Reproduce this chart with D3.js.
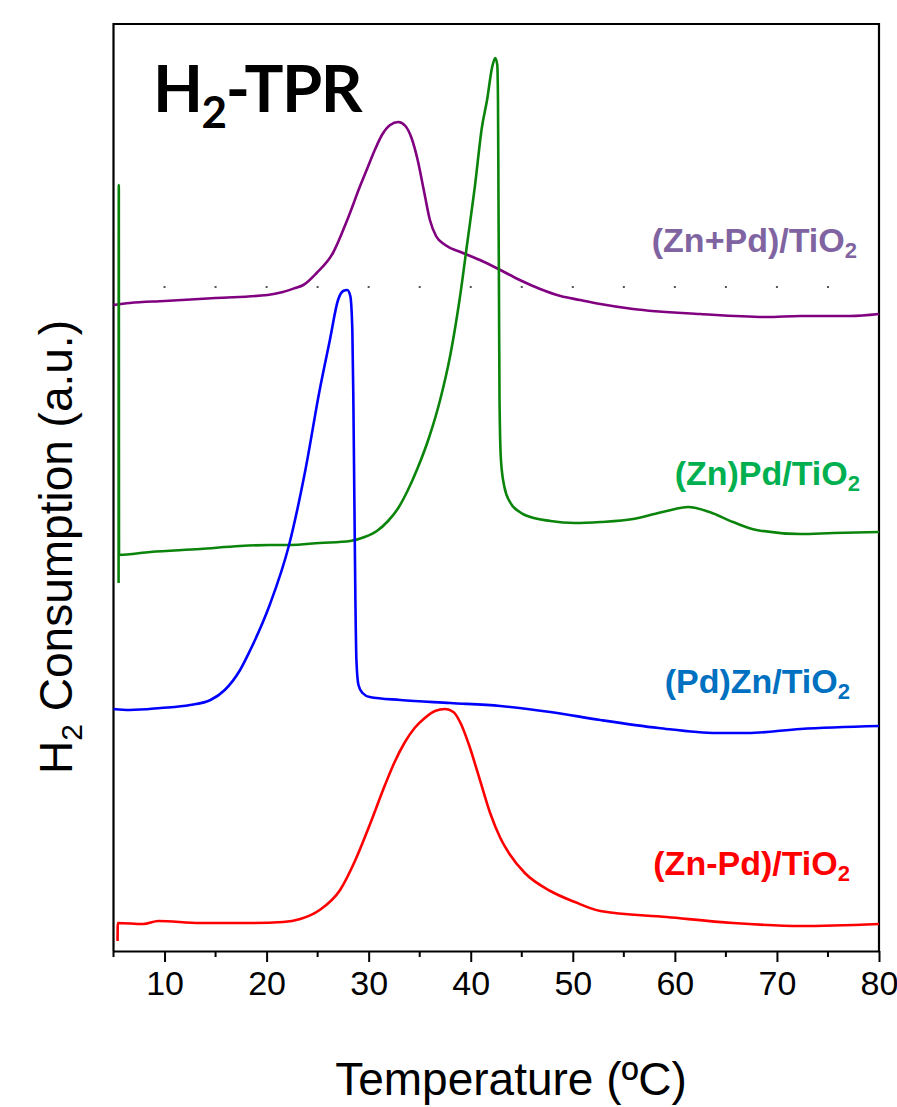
<!DOCTYPE html>
<html>
<head>
<meta charset="utf-8">
<script src="https://cdn.jsdelivr.net/npm/d3@7"></script>
<style>
  html,body{margin:0;padding:0;background:#fff;}
  svg{display:block;}
</style>
</head>
<body>
<svg id="chart" width="897" height="1107"></svg>
<script>
// temperature (ºC) and H2 signal (a.u.)
const purple = [
  [5.0,6.46],[6.6,6.48],[10.0,6.50],[15.0,6.53],[20.1,6.56],[21.6,6.59],[22.8,6.63],[23.6,6.66],
  [24.9,6.78],[26.5,6.98],[27.9,7.31],[29.2,7.66],[29.8,7.81],[30.6,8.01],[31.3,8.16],[32.1,8.26],
  [32.9,8.29],[33.6,8.25],[34.2,8.13],[34.8,7.91],[35.4,7.61],[36.0,7.31],[36.6,7.15],[37.5,7.06],
  [39.0,6.99],[40.9,6.91],[42.9,6.81],[44.8,6.71],[46.8,6.62],[48.8,6.55],[50.7,6.51],[52.7,6.47],
  [55.9,6.42],[62.5,6.37],[69.0,6.34],[72.3,6.35],[77.2,6.35],[80.0,6.37]
];
const green = [
  [5.50,3.68],[5.52,7.66],[5.54,3.96],[8.6,3.99],[13.5,4.02],[17.4,4.05],[20.3,4.06],[22.3,4.06],
  [25.2,4.08],[28.2,4.10],[29.6,4.14],[30.8,4.20],[31.9,4.30],[32.9,4.43],[33.8,4.60],[34.8,4.83],
  [35.9,5.13],[37.0,5.51],[38.0,5.96],[38.9,6.51],[39.7,7.11],[40.4,7.64],[41.1,8.24],[41.6,8.51],[42.1,8.84],
  [42.4,8.93],[42.6,8.86],[42.67,8.51],[42.72,7.51],[42.77,6.51],[42.82,5.51],[42.96,4.91],[43.3,4.64],
  [43.9,4.48],[44.8,4.39],[45.3,4.36],[47.8,4.30],[50.2,4.28],[52.7,4.29],[55.9,4.32],[58.0,4.37],[59.2,4.40],
  [61.3,4.44],[63.4,4.39],[65.7,4.29],[68.0,4.21],[72.3,4.17],[75.5,4.18],[80.0,4.19]
];
const blue = [
  [5.0,2.42],[6.6,2.41],[9.6,2.43],[12.5,2.46],[14.5,2.51],[15.9,2.61],[17.4,2.81],[18.4,3.01],
  [20.3,3.46],[22.2,4.06],[23.8,4.81],[25.2,5.61],[26.2,6.11],[27.0,6.51],[27.5,6.60],[27.9,6.61],
  [28.2,6.55],[28.4,6.21],[28.5,5.51],[28.6,4.51],[28.7,3.51],[28.8,2.91],[29.0,2.66],[29.4,2.58],
  [30.1,2.54],[33.1,2.51],[38.0,2.48],[42.9,2.45],[47.8,2.39],[52.7,2.31],[58.4,2.23],[64.1,2.18],
  [67.1,2.18],[72.3,2.22],[80.0,2.25]
];
const red = [
  [5.40,0.10],[5.42,0.28],[7.9,0.27],[9.4,0.30],[13.5,0.28],[18.4,0.28],[21.6,0.29],[23.3,0.32],
  [25.2,0.41],[27.2,0.61],[28.7,0.91],[30.1,1.26],[31.6,1.66],[32.5,1.88],[33.5,2.08],[34.5,2.23],
  [35.5,2.33],[36.5,2.40],[37.5,2.42],[38.3,2.39],[39.0,2.28],[39.8,2.07],[40.9,1.71],[41.9,1.38],
  [42.9,1.13],[43.8,0.97],[45.3,0.78],[47.8,0.60],[50.2,0.49],[52.7,0.40],[59.2,0.34],[65.7,0.28],
  [72.3,0.25],[80.0,0.27]
];
const majorTicks = [10,20,30,40,50,60,70,80];
const minorTicks = [5,15,25,35,45,55,65,75];
const dotTicks = [10,15,20,25,30,35,40,45,50,55,60,65,70,75];
const dotLevel = 6.64;

const series = [
  {name:"(Zn+Pd)/TiO", data:purple, line:"#800080", text:"#8064a2", lx:857, ly:252},
  {name:"(Zn)Pd/TiO",  data:green,  line:"#0a840a", text:"#00b050", lx:860, ly:485},
  {name:"(Pd)Zn/TiO",  data:blue,   line:"#0000ff", text:"#0070c0", lx:850, ly:693},
  {name:"(Zn-Pd)/TiO", data:red,    line:"#ff0000", text:"#ff0000", lx:850, ly:875}
];

const svg = d3.select("#chart");
const pLeft=113.5, pRight=879, pTop=24, pBottom=951;

const x = d3.scaleLinear().domain([5,80]).range([pLeft,pRight]);
const y = d3.scaleLinear().domain([0,9.27]).range([pBottom,pTop]);

// frame
svg.append("path")
  .attr("d",`M${pLeft},${pBottom}V${pTop}H${pRight}V${pBottom}`)
  .attr("fill","none").attr("stroke","#000").attr("stroke-width",2.2);

// little dotted marks left over in the figure
svg.append("g").selectAll("rect").data(dotTicks).join("rect")
  .attr("x",d=>x(d)-1).attr("y",y(dotLevel)-1).attr("width",2).attr("height",2)
  .attr("fill","#555");

// bottom axis
const ax = svg.append("g").attr("transform",`translate(0,${pBottom})`)
  .call(d3.axisBottom(x).tickValues(majorTicks).tickSize(11).tickPadding(9).tickSizeOuter(0).tickFormat(d3.format("d")));
ax.select(".domain").attr("stroke-width",2.2);
ax.selectAll(".tick line").attr("stroke-width",2);
ax.selectAll(".tick text").attr("font-family","Liberation Sans, Arial, sans-serif").attr("font-size",34).attr("fill","#000");
svg.append("g").attr("transform",`translate(0,${pBottom})`)
  .selectAll("line").data(minorTicks).join("line")
  .attr("x1",d=>x(d)).attr("x2",d=>x(d)).attr("y1",0).attr("y2",6)
  .attr("stroke","#000").attr("stroke-width",2);

// curves
const line = d3.line().x(d=>x(d[0])).y(d=>y(d[1])).curve(d3.curveMonotoneX);
svg.append("g").selectAll("path").data(series).join("path")
  .attr("d",d=>line(d.data)).attr("fill","none")
  .attr("stroke",d=>d.line).attr("stroke-width",2.6).attr("stroke-linejoin","round");

// series labels
const lab = svg.append("g").selectAll("text").data(series).join("text")
  .attr("x",d=>d.lx).attr("y",d=>d.ly).attr("text-anchor","end")
  .attr("font-family","Liberation Sans, Arial, sans-serif").attr("font-weight","bold")
  .attr("font-size",34).attr("fill",d=>d.text);
lab.append("tspan").text(d=>d.name);
lab.append("tspan").attr("font-size",22).attr("dy",6).text("2");

// title
const title = svg.append("text").attr("x",153).attr("y",112)
  .attr("font-family","Lato, sans-serif").attr("font-weight","bold").attr("font-size",65)
  .attr("letter-spacing",-1.5).attr("fill","#000");
title.append("tspan").text("H");
title.append("tspan").attr("font-size",44).attr("dy",16).text("2");
title.append("tspan").attr("dy",-16).text("-TPR");

// axis titles
svg.append("text").attr("x",511).attr("y",1095).attr("text-anchor","middle")
  .attr("font-family","Liberation Sans, Arial, sans-serif").attr("font-size",46).attr("fill","#000")
  .text("Temperature (ºC)");

const yl = svg.append("text").attr("transform","translate(72,547) rotate(-90)").attr("text-anchor","middle")
  .attr("font-family","Liberation Sans, Arial, sans-serif").attr("font-size",46).attr("fill","#000");
yl.append("tspan").text("H");
yl.append("tspan").attr("font-size",30).attr("dy",10).text("2");
yl.append("tspan").attr("dy",-10).text(" Consumption (a.u.)");
</script>
</body>
</html>
